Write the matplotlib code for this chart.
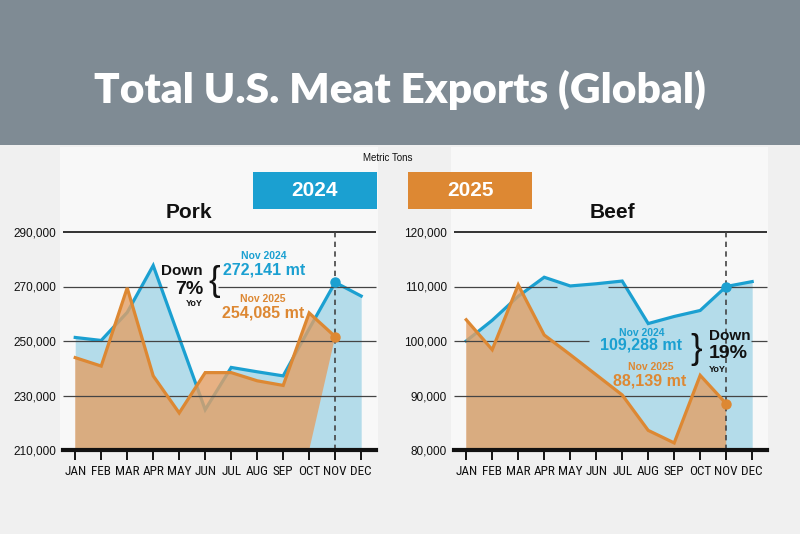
import matplotlib
matplotlib.use('Agg')
import matplotlib.pyplot as plt
from matplotlib.patches import Rectangle
from matplotlib.ticker import FuncFormatter

# ---------------- data ----------------
months = ['JAN', 'FEB', 'MAR', 'APR', 'MAY', 'JUN', 'JUL', 'AUG', 'SEP', 'OCT', 'NOV', 'DEC']
pork_2024 = [251300, 250200, 260500, 277700, 251200, 224800, 240300, 238700, 237200, 254500, 271500, 266500]
pork_2025 = [243900, 240800, 269500, 237200, 223600, 238400, 238400, 235400, 233700, 260300, 251600]
beef_2024 = [100000, 103800, 108200, 111700, 110100, 110500, 111000, 103200, 104500, 105600, 110000, 110900]
beef_2025 = [103900, 98400, 110300, 101100, 97500, 93800, 90100, 83600, 81300, 93700, 88500]
pork_yticks = [210000, 230000, 250000, 270000, 290000]
beef_yticks = [80000, 90000, 100000, 110000, 120000]
series_years = ['2024', '2025']
pork_notes = ['Nov 2024', '272,141 mt', 'Nov 2025', '254,085 mt', 'Down', '7%', 'YoY']
beef_notes = ['Nov 2024', '109,288 mt', 'Nov 2025', '88,139 mt', 'Down', '19%', 'YoY']

# ---------------- style ----------------
BLUE = '#1ba0d1'
BLUE_FILL = '#b4dcea'
ORANGE = '#dd8833'
ORANGE_FILL = '#e3a066'
HEADER = '#7f8b94'
BG = '#f0f0f0'
PANEL = '#f8f8f8'
SANS = ['Liberation Sans', 'DejaVu Sans']
NARROW = ['Roboto Condensed', 'DejaVu Sans Condensed', 'Liberation Sans Narrow', 'Roboto']

W, H = 800, 534
fig = plt.figure(figsize=(8, 5.34), dpi=100, facecolor=BG)


def fx(px):
    return px / W


def fy(py):
    return (H - py) / H


# header band
fig.patches.append(Rectangle((0, fy(145)), 1, 145 / H, transform=fig.transFigure,
                             facecolor=HEADER, edgecolor='none', zorder=-10))
fig.text(0.5, fy(103), 'Total U.S. Meat Exports (Global)', color='white',
         fontsize=30.5, fontweight='heavy', family=['Lato', 'DejaVu Sans'],
         ha='center', va='baseline')

# light panels
for x0, x1 in [(60, 378), (451, 768)]:
    fig.patches.append(Rectangle((fx(x0), fy(450)), (x1 - x0) / W, 303 / H,
                                 transform=fig.transFigure, facecolor=PANEL,
                                 edgecolor='none', zorder=-10))

fig.text(fx(388), fy(158), 'Metric Tons', fontsize=7, family=SANS,
         ha='center', va='center', color='#111')

# legend boxes
for x0, col, lab in [(253, BLUE, series_years[0]), (408, ORANGE, series_years[1])]:
    fig.patches.append(Rectangle((fx(x0), fy(209)), 124 / W, 37 / H,
                                 transform=fig.transFigure, facecolor=col,
                                 edgecolor='none', zorder=-5))
    fig.text(fx(x0 + 62), fy(191), lab, color='white', fontsize=15,
             fontweight='bold', family=SANS, ha='center', va='center')


def panel(left_px, title, title_x, y24, y25, yticks, base_end, gaps):
    ax = fig.add_axes([fx(left_px), fy(450), 313 / W, 218 / H])
    ax.set_facecolor('none')
    ymin, ymax = yticks[0], yticks[-1]
    x24 = list(range(len(y24)))
    x25 = list(range(len(y25)))
    # 2024 area + line
    ax.fill_between(x24, y24, ymin, color=BLUE_FILL, lw=0, zorder=1)
    ax.plot(x24, y24, color=BLUE, lw=2.3, zorder=2, solid_joinstyle='miter')
    # 2025 area (translucent) + line
    px = x25 + [base_end, 0]
    py = y25 + [ymin, ymin]
    ax.fill(px, py, color=ORANGE_FILL, alpha=0.8, lw=0, zorder=3)
    ax.plot(x25, y25, color=ORANGE, lw=2.3, zorder=5, solid_joinstyle='miter')
    # gridlines
    for yv in yticks[1:]:
        col = '#111' if yv == ymax else '#444'
        lw = 1.2 if yv == ymax else 0.9
        segs = [(-0.47, 11.57)]
        if yv in gaps:
            a, b = gaps[yv]
            segs = [(-0.47, a), (b, 11.57)]
        for a, b in segs:
            ax.plot([a, b], [yv, yv], color=col, lw=lw, zorder=4,
                    solid_capstyle='butt', clip_on=False)
    # NOV marker line and dots
    ax.plot([10, 10], [ymin, ymax], color='#444', lw=1.2, ls=(0, (3.2, 2.6)),
            zorder=4.5, clip_on=False)
    ax.plot(10, y24[10], 'o', ms=6.5, color=BLUE, zorder=6, clip_on=False)
    ax.plot(10, y25[10], 'o', ms=6.5, color=ORANGE, zorder=6, clip_on=False)

    ax.set_xlim(-0.47, 11.57)
    ax.set_ylim(ymin, ymax)
    ax.set_xticks(range(12))
    ax.set_xticklabels(months, family=NARROW, fontstretch='condensed',
                       fontsize=9.5, color='#111')
    ax.set_yticks(yticks)
    ax.yaxis.set_major_formatter(FuncFormatter(lambda v, p: f'{int(v):,}'))
    for lab in ax.get_yticklabels():
        lab.set_family(SANS)
        lab.set_fontsize(8.5)
        lab.set_color('#111')
    ax.tick_params(axis='x', length=7, width=1.4, color='#111', pad=4)
    ax.tick_params(axis='y', length=0, pad=5)
    for s in ['top', 'left', 'right']:
        ax.spines[s].set_visible(False)
    ax.spines['bottom'].set_linewidth(3)
    ax.spines['bottom'].set_color('#111')
    ax.spines['bottom'].set_zorder(7)
    fig.text(fx(title_x), fy(212), title, fontsize=15, fontweight='bold',
             family=SANS, ha='center', va='center', color='#111')
    return ax


ax1 = panel(63, 'Pork', 189, pork_2024, pork_2025, pork_yticks, 9,
            {270000: (3.54, 5.5)})
ax2 = panel(454, 'Beef', 612, beef_2024, beef_2025, beef_yticks, 10,
            {110000: (3.51, 5.47), 100000: (4.74, 10.97)})

# pork annotations
fig.text(fx(264), fy(256), pork_notes[0], color=BLUE, fontsize=7.5, fontweight='bold',
         family=SANS, ha='center', va='center')
fig.text(fx(264), fy(270), pork_notes[1], color=BLUE, fontsize=11.5, fontweight='bold',
         family=SANS, ha='center', va='center')
fig.text(fx(263), fy(299), pork_notes[2], color=ORANGE, fontsize=7.5, fontweight='bold',
         family=SANS, ha='center', va='center')
fig.text(fx(263), fy(313), pork_notes[3], color=ORANGE, fontsize=11.5, fontweight='bold',
         family=SANS, ha='center', va='center')
fig.text(fx(203), fy(271), pork_notes[4], color='#111', fontsize=11, fontweight='bold',
         family=SANS, ha='right', va='center')
fig.text(fx(203), fy(290), pork_notes[5], color='#111', fontsize=14, fontweight='bold',
         family=SANS, ha='right', va='center')
fig.text(fx(203), fy(304), pork_notes[6], color='#111', fontsize=6.5, fontweight='bold',
         family=SANS, ha='right', va='center')
fig.text(fx(214), fy(282), '{', color='#111', fontsize=25, family=SANS,
         ha='center', va='center')

# beef annotations
fig.text(fx(642), fy(333), beef_notes[0], color=BLUE, fontsize=7.5, fontweight='bold',
         family=SANS, ha='center', va='center')
fig.text(fx(641), fy(345), beef_notes[1], color=BLUE, fontsize=11.5, fontweight='bold',
         family=SANS, ha='center', va='center')
fig.text(fx(651), fy(367), beef_notes[2], color=ORANGE, fontsize=7.5, fontweight='bold',
         family=SANS, ha='center', va='center')
fig.text(fx(650), fy(381), beef_notes[3], color=ORANGE, fontsize=11.5, fontweight='bold',
         family=SANS, ha='center', va='center')
fig.text(fx(709), fy(336), beef_notes[4], color='#111', fontsize=11, fontweight='bold',
         family=SANS, ha='left', va='center')
fig.text(fx(709), fy(353), beef_notes[5], color='#111', fontsize=14, fontweight='bold',
         family=SANS, ha='left', va='center')
fig.text(fx(709), fy(369), beef_notes[6], color='#111', fontsize=6.5, fontweight='bold',
         family=SANS, ha='left', va='center')
fig.text(fx(696), fy(350), '}', color='#111', fontsize=25, family=SANS,
         ha='center', va='center')

fig.savefig('out.png', dpi=100, facecolor=BG)
